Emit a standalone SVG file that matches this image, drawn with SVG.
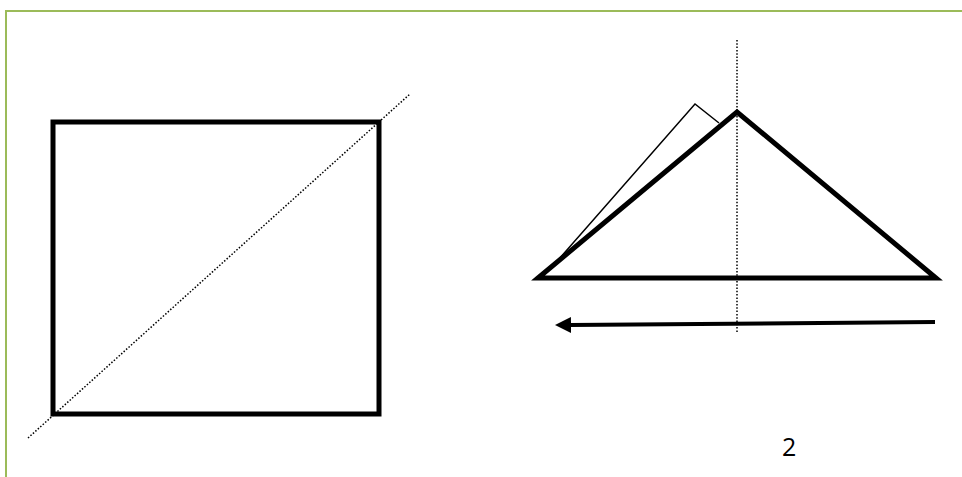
<svg xmlns="http://www.w3.org/2000/svg" width="962" height="477" viewBox="0 0 962 477">
<style>
.frame{fill:none;stroke:#9BBB59;stroke-width:2}
.thick{fill:none;stroke:#000;stroke-width:5;stroke-linejoin:miter}
.thin{fill:none;stroke:#000;stroke-width:1.5}
.dot{fill:none;stroke:#000;stroke-width:1.5;stroke-dasharray:1.5 1.8}
.lbl{font-family:"Open Sans","Noto Sans",sans-serif;font-size:25px;fill:#000}
</style>
<defs>
<marker id="ah" markerUnits="userSpaceOnUse" markerWidth="18" markerHeight="18" refX="1" refY="8" orient="auto">
<path d="M16,8 L0,0 L0,16 Z" fill="#000"/>
</marker>
</defs>
<g id="frame"><path class="frame" d="M962,11 H6 V477"/></g>
<g id="square">
<rect class="thick" x="53" y="122" width="326" height="292"/>
<line class="dot" x1="28" y1="438" x2="410" y2="94"/>
</g>
<g id="triangle">
<path class="thin" d="M552,267 L695,104 L719,123"/>
<path class="thick" d="M538,278 L737,112 L936,278 Z"/>
<line class="dot" x1="737" y1="40" x2="737" y2="333"/>
</g>
<g id="connectors">
<line x1="935" y1="322" x2="570" y2="325" stroke="#000" stroke-width="4" marker-end="url(#ah)"/>
</g>
<g id="label"><text class="lbl" x="782" y="456">2</text></g>
</svg>
